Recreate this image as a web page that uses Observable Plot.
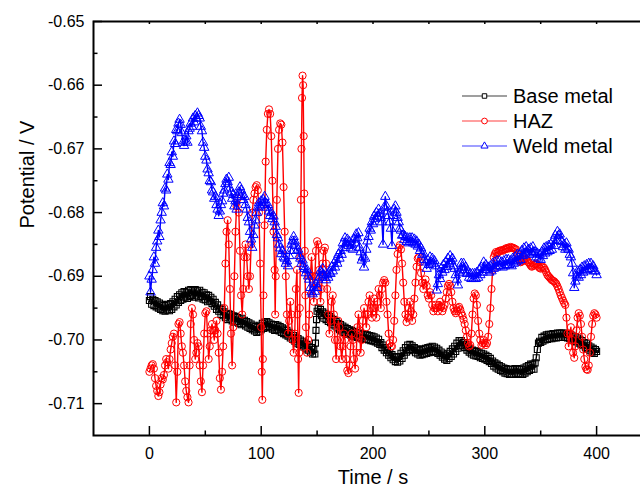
<!DOCTYPE html>
<html>
<head>
<meta charset="utf-8">
<script src="https://cdn.jsdelivr.net/npm/d3@7"></script>
<script src="https://cdn.jsdelivr.net/npm/@observablehq/plot@0.6"></script>
<style>
  html, body { margin: 0; padding: 0; background: #fff; overflow: hidden; }
  #wrap { position: relative; width: 652px; height: 488px; font-family: "Liberation Sans", Arial, sans-serif; }
  #legend { position: absolute; left: 0; top: 0; pointer-events: none; }
</style>
</head>
<body>
<div id="wrap"></div>
<script>
// ---- data (time s, potential V) ----
const seriesNames = ["Base metal", "HAZ", "Weld metal"];
const xMajor = [0, 100, 200, 300, 400];
const xMinor = [50, 150, 250, 350];
const yMajor = [-0.65, -0.66, -0.67, -0.68, -0.69, -0.70, -0.71];
const yMinor = [-0.655, -0.665, -0.675, -0.685, -0.695, -0.705];

const baseMetal = [
[0,-0.6938],[1,-0.6932],[2,-0.6944],[3,-0.6936],[4,-0.6946],[5,-0.6938],[6,-0.6948],[7,-0.6940],[8,-0.6950],[9,-0.6942],
[10,-0.6952],[11,-0.6944],[12,-0.6954],[13,-0.6946],[14,-0.6955],[15,-0.6945],[16,-0.6953],[17,-0.6944],[18,-0.6954],[19,-0.6943],
[20,-0.6952],[21,-0.6940],[22,-0.6948],[23,-0.6936],[24,-0.6945],[25,-0.6932],[26,-0.6941],[27,-0.6929],[28,-0.6938],[29,-0.6926],
[30,-0.6936],[31,-0.6924],[32,-0.6933],[33,-0.6925],[34,-0.6935],[35,-0.6922],[36,-0.6932],[37,-0.6921],[38,-0.6930],[39,-0.6922],
[40,-0.6933],[41,-0.6921],[42,-0.6931],[43,-0.6923],[44,-0.6934],[45,-0.6922],[46,-0.6932],[47,-0.6925],[48,-0.6936],[49,-0.6926],
[50,-0.6937],[51,-0.6929],[52,-0.6940],[53,-0.6930],[54,-0.6939],[55,-0.6933],[56,-0.6943],[57,-0.6936],[58,-0.6947],[59,-0.6941],
[60,-0.6952],[61,-0.6945],[62,-0.6955],[63,-0.6950],[64,-0.6960],[65,-0.6952],[66,-0.6962],[67,-0.6956],[68,-0.6965],[69,-0.6958],
[70,-0.6968],[71,-0.6959],[72,-0.6967],[73,-0.6960],[74,-0.6970],[75,-0.6962],[76,-0.6972],[77,-0.6963],[78,-0.6971],[79,-0.6965],
[80,-0.6974],[81,-0.6967],[82,-0.6976],[83,-0.6966],[84,-0.6975],[85,-0.6969],[86,-0.6978],[87,-0.6971],[88,-0.6980],[89,-0.6973],
[90,-0.6982],[91,-0.6975],[92,-0.6984],[93,-0.6977],[94,-0.6986],[95,-0.6979],[96,-0.6988],[97,-0.6980],[98,-0.6987],[99,-0.6977],
[100,-0.6984],[101,-0.6974],[102,-0.6982],[103,-0.6972],[104,-0.6980],[105,-0.6971],[106,-0.6979],[107,-0.6973],[108,-0.6981],[109,-0.6975],
[110,-0.6983],[111,-0.6976],[112,-0.6985],[113,-0.6976],[114,-0.6984],[115,-0.6977],[116,-0.6986],[117,-0.6979],[118,-0.6988],[119,-0.6981],
[120,-0.6990],[121,-0.6983],[122,-0.6992],[123,-0.6985],[124,-0.6994],[125,-0.6988],[126,-0.6997],[127,-0.6990],[128,-0.6999],[129,-0.6993],
[130,-0.7002],[131,-0.6996],[132,-0.7005],[133,-0.6998],[134,-0.7007],[135,-0.7000],[136,-0.7009],[137,-0.7002],[138,-0.7011],[139,-0.7005],
[140,-0.7014],[141,-0.7007],[142,-0.7016],[143,-0.7010],[144,-0.7019],[145,-0.7012],[146,-0.7022],[147,-0.7015],[148,-0.7022],[148.5,-0.7005],
[149,-0.6985],[149.5,-0.6968],[150,-0.6955],[151,-0.6950],[152,-0.6958],[153,-0.6952],[154,-0.6962],[155,-0.6956],[156,-0.6966],[157,-0.6958],
[158,-0.6968],[159,-0.6961],[160,-0.6971],[161,-0.6963],[162,-0.6973],[163,-0.6966],[164,-0.6976],[165,-0.6968],[166,-0.6978],[167,-0.6971],
[168,-0.6981],[169,-0.6974],[170,-0.6984],[171,-0.6976],[172,-0.6986],[173,-0.6978],[174,-0.6988],[175,-0.6980],[176,-0.6990],[177,-0.6982],
[178,-0.6991],[179,-0.6984],[180,-0.6992],[181,-0.6985],[182,-0.6994],[183,-0.6987],[184,-0.6995],[185,-0.6988],[186,-0.6996],[187,-0.6989],
[188,-0.6997],[189,-0.6990],[190,-0.6998],[191,-0.6991],[192,-0.6999],[193,-0.6991],[194,-0.6999],[195,-0.6992],[196,-0.7000],[197,-0.6993],
[198,-0.7001],[199,-0.6994],[200,-0.7002],[201,-0.6995],[202,-0.7003],[203,-0.6997],[204,-0.7005],[205,-0.6999],[206,-0.7007],[207,-0.7004],
[208,-0.7012],[209,-0.7008],[210,-0.7016],[211,-0.7012],[212,-0.7020],[213,-0.7016],[214,-0.7024],[215,-0.7020],[216,-0.7028],[217,-0.7023],
[218,-0.7031],[219,-0.7026],[220,-0.7034],[221,-0.7027],[222,-0.7035],[223,-0.7026],[224,-0.7033],[225,-0.7021],[226,-0.7029],[227,-0.7017],
[228,-0.7024],[229,-0.7012],[230,-0.7019],[231,-0.7008],[232,-0.7016],[233,-0.7007],[234,-0.7015],[235,-0.7009],[236,-0.7017],[237,-0.7012],
[238,-0.7020],[239,-0.7014],[240,-0.7022],[241,-0.7016],[242,-0.7024],[243,-0.7015],[244,-0.7023],[245,-0.7014],[246,-0.7022],[247,-0.7013],
[248,-0.7021],[249,-0.7012],[250,-0.7020],[251,-0.7011],[252,-0.7019],[253,-0.7010],[254,-0.7018],[255,-0.7011],[256,-0.7019],[257,-0.7013],
[258,-0.7021],[259,-0.7016],[260,-0.7024],[261,-0.7019],[262,-0.7027],[263,-0.7022],[264,-0.7030],[265,-0.7024],[266,-0.7032],[267,-0.7021],
[268,-0.7029],[269,-0.7018],[270,-0.7026],[271,-0.7014],[272,-0.7022],[273,-0.7010],[274,-0.7018],[275,-0.7005],[276,-0.7013],[277,-0.7001],
[278,-0.7009],[279,-0.7001],[280,-0.7009],[281,-0.7004],[282,-0.7012],[283,-0.7007],[284,-0.7016],[285,-0.7011],[286,-0.7019],[287,-0.7014],
[288,-0.7022],[289,-0.7016],[290,-0.7024],[291,-0.7017],[292,-0.7025],[293,-0.7018],[294,-0.7026],[295,-0.7020],[296,-0.7028],[297,-0.7021],
[298,-0.7029],[299,-0.7022],[300,-0.7030],[301,-0.7024],[302,-0.7032],[303,-0.7026],[304,-0.7034],[305,-0.7029],[306,-0.7037],[307,-0.7033],
[308,-0.7041],[309,-0.7036],[310,-0.7044],[311,-0.7038],[312,-0.7046],[313,-0.7040],[314,-0.7048],[315,-0.7042],[316,-0.7050],[317,-0.7044],
[318,-0.7052],[319,-0.7045],[320,-0.7053],[321,-0.7046],[322,-0.7054],[323,-0.7046],[324,-0.7054],[325,-0.7046],[326,-0.7054],[327,-0.7045],
[328,-0.7053],[329,-0.7045],[330,-0.7053],[331,-0.7046],[332,-0.7054],[333,-0.7046],[334,-0.7054],[335,-0.7044],[336,-0.7052],[337,-0.7042],
[338,-0.7050],[339,-0.7040],[340,-0.7048],[341,-0.7038],[342,-0.7046],[343,-0.7038],[344,-0.7046],[345,-0.7036],[346,-0.7028],[347,-0.7015],
[348,-0.7005],[349,-0.7002],[350,-0.7004],[351,-0.6996],[352,-0.7002],[353,-0.6994],[354,-0.7000],[355,-0.6992],[356,-0.6999],[357,-0.6991],
[358,-0.6998],[359,-0.6991],[360,-0.6998],[361,-0.6990],[362,-0.6997],[363,-0.6990],[364,-0.6997],[365,-0.6989],[366,-0.6996],[367,-0.6989],
[368,-0.6996],[369,-0.6989],[370,-0.6996],[371,-0.6989],[372,-0.6996],[373,-0.6990],[374,-0.6997],[375,-0.6991],[376,-0.6998],[377,-0.6992],
[378,-0.7000],[379,-0.6994],[380,-0.7002],[381,-0.6995],[382,-0.7003],[383,-0.6997],[384,-0.7005],[385,-0.6999],[386,-0.7007],[387,-0.7001],
[388,-0.7009],[389,-0.7004],[390,-0.7012],[391,-0.7006],[392,-0.7014],[393,-0.7009],[394,-0.7017],[395,-0.7011],[396,-0.7019],[397,-0.7013],
[398,-0.7021],[399,-0.7015],[400,-0.7018]
];

const haz = [
[0,-0.7050],[1,-0.7045],[2,-0.7040],[3,-0.7038],[4,-0.7045],[5,-0.7060],[6,-0.7072],[7,-0.7080],[8,-0.7088],[9,-0.7082],
[10,-0.7070],[11,-0.7060],[12,-0.7062],[13,-0.7055],[14,-0.7040],[15,-0.7030],[16,-0.7035],[17,-0.7045],[18,-0.7030],[19,-0.7015],
[20,-0.7005],[21,-0.6995],[22,-0.6990],[23,-0.7040],[24,-0.7098],[25,-0.7050],[26,-0.6975],[27,-0.6972],[28,-0.6990],[29,-0.7010],
[30,-0.7020],[31,-0.7040],[32,-0.7065],[33,-0.7080],[34,-0.7090],[35,-0.7098],[36,-0.7040],[37,-0.6975],[38,-0.6950],[39,-0.6960],
[40,-0.7000],[41,-0.7030],[42,-0.7020],[43,-0.7005],[44,-0.7010],[45,-0.7040],[46,-0.7065],[47,-0.7082],[48,-0.7040],[49,-0.6990],
[50,-0.6958],[51,-0.6955],[52,-0.6990],[53,-0.7030],[54,-0.7010],[55,-0.6985],[56,-0.6975],[57,-0.6985],[58,-0.7000],[59,-0.6985],
[60,-0.6970],[61,-0.6990],[62,-0.7020],[63,-0.7060],[64,-0.7078],[65,-0.7050],[66,-0.7010],[67,-0.6950],[68,-0.6880],[69,-0.6830],
[70,-0.6812],[71,-0.6850],[72,-0.6920],[73,-0.6990],[74,-0.7040],[75,-0.6980],[76,-0.6900],[77,-0.6830],[78,-0.6790],[79,-0.6778],
[80,-0.6800],[81,-0.6860],[82,-0.6930],[83,-0.6960],[84,-0.6920],[85,-0.6870],[86,-0.6850],[87,-0.6870],[88,-0.6900],[89,-0.6920],
[90,-0.6900],[91,-0.6850],[92,-0.6800],[93,-0.6780],[94,-0.6770],[95,-0.6760],[96,-0.6757],[97,-0.6765],[98,-0.6800],[99,-0.6880],
[100,-0.6980],[100.5,-0.7050],[101,-0.7094],[101.5,-0.7030],[102,-0.6930],[103,-0.6820],[104,-0.6720],[105,-0.6670],[106,-0.6645],[107,-0.6638],
[108,-0.6645],[109,-0.6680],[110,-0.6750],[111,-0.6830],[112,-0.6890],[112.5,-0.6960],[113,-0.6900],[114,-0.6780],[115,-0.6700],[116,-0.6670],
[117,-0.6660],[118,-0.6662],[119,-0.6690],[120,-0.6760],[121,-0.6830],[122,-0.6900],[123,-0.6960],[124,-0.6990],[125,-0.6970],[126,-0.6940],
[127,-0.6960],[128,-0.7000],[129,-0.7020],[130,-0.6990],[131,-0.6920],[132,-0.6890],[132.5,-0.6960],[133,-0.7030],[133.5,-0.7083],[134,-0.7020],
[134.5,-0.6950],[135,-0.6870],[135.5,-0.6780],[136,-0.6700],[136.5,-0.6620],[137,-0.6585],[137.5,-0.6600],[138,-0.6680],[138.5,-0.6770],[139,-0.6860],
[139.5,-0.6930],[140,-0.6980],[141,-0.7020],[142,-0.7000],[143,-0.6960],[144,-0.6900],[145,-0.6870],[146,-0.6900],[147,-0.6940],[148,-0.6900],
[149,-0.6860],[150,-0.6845],[151,-0.6850],[152,-0.6890],[153,-0.6940],[154,-0.6920],[155,-0.6880],[156,-0.6860],[157,-0.6855],[158,-0.6880],
[159,-0.6920],[160,-0.6960],[161,-0.6990],[162,-0.6970],[163,-0.6940],[164,-0.6930],[165,-0.6960],[166,-0.7000],[167,-0.7030],[168,-0.7000],
[169,-0.6970],[170,-0.6980],[171,-0.7010],[172,-0.7030],[173,-0.7010],[174,-0.6990],[175,-0.7000],[176,-0.7030],[177,-0.7048],[178,-0.7052],
[179,-0.7040],[180,-0.7010],[181,-0.6990],[182,-0.7000],[183,-0.7030],[184,-0.7045],[185,-0.7020],[186,-0.6980],[187,-0.6960],[188,-0.6985],
[189,-0.7020],[190,-0.7000],[191,-0.6970],[192,-0.6950],[193,-0.6960],[194,-0.6980],[195,-0.6960],[196,-0.6940],[197,-0.6930],[198,-0.6950],
[199,-0.6965],[200,-0.6950],[201,-0.6935],[202,-0.6950],[203,-0.6965],[204,-0.6940],[205,-0.6920],[206,-0.6930],[207,-0.6950],[208,-0.6920],
[209,-0.6910],[210,-0.6906],[211,-0.6910],[212,-0.6940],[213,-0.6960],[214,-0.6990],[215,-0.7005],[216,-0.7010],[217,-0.7010],[218,-0.7000],
[219,-0.6970],[220,-0.6930],[221,-0.6890],[222,-0.6865],[223,-0.6855],[224,-0.6851],[225,-0.6858],[226,-0.6880],[227,-0.6910],[228,-0.6940],
[229,-0.6960],[230,-0.6972],[231,-0.6965],[232,-0.6950],[233,-0.6940],[234,-0.6955],[235,-0.6970],[236,-0.6960],[237,-0.6935],[238,-0.6910],
[239,-0.6885],[240,-0.6872],[241,-0.6870],[242,-0.6878],[243,-0.6895],[244,-0.6910],[245,-0.6920],[246,-0.6912],[247,-0.6905],[248,-0.6915],
[249,-0.6930],[250,-0.6935],[251,-0.6925],[252,-0.6930],[253,-0.6945],[254,-0.6955],[255,-0.6950],[256,-0.6945],[257,-0.6950],[258,-0.6955],
[259,-0.6945],[260,-0.6940],[261,-0.6948],[262,-0.6955],[263,-0.6950],[264,-0.6945],[265,-0.6935],[266,-0.6925],[267,-0.6915],[268,-0.6912],
[269,-0.6915],[270,-0.6925],[271,-0.6940],[272,-0.6950],[273,-0.6955],[274,-0.6958],[275,-0.6955],[276,-0.6950],[277,-0.6948],[278,-0.6952],
[279,-0.6958],[280,-0.6962],[281,-0.6968],[282,-0.6975],[283,-0.6985],[284,-0.6995],[285,-0.7005],[286,-0.7010],[287,-0.7008],[288,-0.6990],
[289,-0.6960],[290,-0.6935],[291,-0.6927],[292,-0.6930],[293,-0.6945],[294,-0.6970],[295,-0.6990],[296,-0.7000],[297,-0.7008],[298,-0.7005],
[299,-0.7000],[300,-0.7005],[301,-0.7008],[302,-0.7005],[303,-0.6995],[304,-0.6975],[305,-0.6950],[306,-0.6920],[307,-0.6890],[308,-0.6870],
[309,-0.6865],[310,-0.6862],[311,-0.6864],[312,-0.6862],[313,-0.6860],[314,-0.6860],[315,-0.6859],[316,-0.6860],[317,-0.6858],[318,-0.6858],
[319,-0.6856],[320,-0.6857],[321,-0.6855],[322,-0.6856],[323,-0.6854],[324,-0.6855],[325,-0.6855],[326,-0.6856],[327,-0.6857],[328,-0.6858],
[329,-0.6864],[330,-0.6870],[331,-0.6875],[332,-0.6878],[333,-0.6877],[334,-0.6876],[335,-0.6874],[336,-0.6872],[337,-0.6873],[338,-0.6875],
[339,-0.6878],[340,-0.6880],[341,-0.6883],[342,-0.6885],[343,-0.6884],[344,-0.6882],[345,-0.6881],[346,-0.6880],[347,-0.6882],[348,-0.6885],
[349,-0.6887],[350,-0.6888],[351,-0.6886],[352,-0.6885],[353,-0.6887],[354,-0.6890],[355,-0.6894],[356,-0.6898],[357,-0.6900],[358,-0.6902],
[359,-0.6904],[360,-0.6906],[361,-0.6907],[362,-0.6908],[363,-0.6910],[364,-0.6912],[365,-0.6916],[366,-0.6920],[367,-0.6925],[368,-0.6930],
[369,-0.6934],[370,-0.6938],[371,-0.6942],[372,-0.6945],[373,-0.6965],[374,-0.6990],[375,-0.7010],[376,-0.6990],[377,-0.6980],[378,-0.7000],
[379,-0.7020],[380,-0.7028],[381,-0.7010],[382,-0.6985],[383,-0.6965],[384,-0.6958],[385,-0.6962],[386,-0.6975],[387,-0.6995],[388,-0.7015],
[389,-0.7030],[390,-0.7042],[391,-0.7046],[392,-0.7047],[393,-0.7040],[394,-0.7020],[395,-0.6995],[396,-0.6975],[397,-0.6962],[398,-0.6958],
[399,-0.6960],[400,-0.6965]
];

const weldMetal = [
[0,-0.6900],[1,-0.6925],[2,-0.6905],[3,-0.6890],[4,-0.6870],[5,-0.6880],[6,-0.6855],[7,-0.6845],[8,-0.6828],[9,-0.6838],
[10,-0.6812],[11,-0.6800],[12,-0.6785],[13,-0.6790],[14,-0.6762],[15,-0.6765],[16,-0.6740],[17,-0.6748],[18,-0.6722],[19,-0.6725],
[20,-0.6705],[21,-0.6712],[22,-0.6688],[23,-0.6692],[24,-0.6670],[25,-0.6672],[26,-0.6660],[27,-0.6654],[28,-0.6662],[29,-0.6675],
[30,-0.6690],[31,-0.6695],[32,-0.6688],[33,-0.6680],[34,-0.6690],[35,-0.6672],[36,-0.6668],[37,-0.6660],[38,-0.6665],[39,-0.6652],
[40,-0.6658],[41,-0.6648],[42,-0.6652],[43,-0.6644],[44,-0.6648],[45,-0.6652],[46,-0.6665],[47,-0.6672],[48,-0.6690],[49,-0.6698],
[50,-0.6712],[51,-0.6718],[52,-0.6732],[53,-0.6738],[54,-0.6750],[55,-0.6752],[56,-0.6765],[57,-0.6768],[58,-0.6778],[59,-0.6775],
[60,-0.6788],[61,-0.6795],[62,-0.6805],[63,-0.6798],[64,-0.6788],[65,-0.6782],[66,-0.6770],[67,-0.6765],[68,-0.6755],[69,-0.6748],
[70,-0.6752],[71,-0.6745],[72,-0.6762],[73,-0.6768],[74,-0.6778],[75,-0.6772],[76,-0.6790],[77,-0.6782],[78,-0.6795],[79,-0.6775],
[80,-0.6768],[81,-0.6760],[82,-0.6765],[83,-0.6772],[84,-0.6780],[85,-0.6775],[86,-0.6788],[87,-0.6795],[88,-0.6808],[89,-0.6815],
[90,-0.6830],[91,-0.6842],[92,-0.6855],[93,-0.6835],[94,-0.6820],[95,-0.6812],[96,-0.6800],[97,-0.6792],[98,-0.6785],[99,-0.6790],
[100,-0.6782],[101,-0.6788],[102,-0.6780],[103,-0.6775],[104,-0.6785],[105,-0.6792],[106,-0.6788],[107,-0.6798],[108,-0.6805],[109,-0.6800],
[110,-0.6810],[111,-0.6806],[112,-0.6815],[113,-0.6822],[114,-0.6835],[115,-0.6840],[116,-0.6850],[117,-0.6856],[118,-0.6865],[119,-0.6860],
[120,-0.6870],[121,-0.6872],[122,-0.6880],[123,-0.6876],[124,-0.6884],[125,-0.6868],[126,-0.6860],[127,-0.6850],[128,-0.6845],[129,-0.6838],
[130,-0.6845],[131,-0.6852],[132,-0.6860],[133,-0.6858],[134,-0.6868],[135,-0.6872],[136,-0.6880],[137,-0.6875],[138,-0.6885],[139,-0.6888],
[140,-0.6895],[141,-0.6890],[142,-0.6900],[143,-0.6905],[144,-0.6918],[145,-0.6925],[146,-0.6928],[147,-0.6918],[148,-0.6924],[149,-0.6912],
[150,-0.6918],[151,-0.6905],[152,-0.6902],[153,-0.6892],[154,-0.6895],[155,-0.6888],[156,-0.6898],[157,-0.6902],[158,-0.6906],[159,-0.6898],
[160,-0.6902],[161,-0.6894],[162,-0.6896],[163,-0.6886],[164,-0.6892],[165,-0.6880],[166,-0.6886],[167,-0.6874],[168,-0.6880],[169,-0.6866],
[170,-0.6872],[171,-0.6860],[172,-0.6866],[173,-0.6848],[174,-0.6855],[175,-0.6840],[176,-0.6848],[177,-0.6842],[178,-0.6852],[179,-0.6846],
[180,-0.6856],[181,-0.6850],[182,-0.6858],[183,-0.6842],[184,-0.6848],[185,-0.6834],[186,-0.6840],[187,-0.6832],[188,-0.6855],[189,-0.6862],
[190,-0.6875],[191,-0.6870],[192,-0.6886],[193,-0.6872],[194,-0.6858],[195,-0.6845],[196,-0.6838],[197,-0.6825],[198,-0.6828],[199,-0.6815],
[200,-0.6818],[201,-0.6806],[202,-0.6810],[203,-0.6800],[204,-0.6806],[205,-0.6795],[206,-0.6802],[207,-0.6808],[208,-0.6815],[209,-0.6850],
[210,-0.6792],[211,-0.6775],[212,-0.6790],[213,-0.6798],[214,-0.6805],[215,-0.6815],[216,-0.6825],[217,-0.6852],[218,-0.6805],[219,-0.6795],
[220,-0.6790],[221,-0.6800],[222,-0.6808],[223,-0.6815],[224,-0.6825],[225,-0.6828],[226,-0.6836],[227,-0.6835],[228,-0.6843],[229,-0.6838],
[230,-0.6846],[231,-0.6840],[232,-0.6848],[233,-0.6840],[234,-0.6846],[235,-0.6840],[236,-0.6848],[237,-0.6842],[238,-0.6850],[239,-0.6845],
[240,-0.6853],[241,-0.6850],[242,-0.6860],[243,-0.6856],[244,-0.6866],[245,-0.6864],[246,-0.6874],[247,-0.6878],[248,-0.6888],[249,-0.6875],
[250,-0.6882],[251,-0.6870],[252,-0.6878],[253,-0.6872],[254,-0.6880],[255,-0.6876],[256,-0.6884],[257,-0.6922],[258,-0.6912],[259,-0.6898],
[260,-0.6904],[261,-0.6888],[262,-0.6894],[263,-0.6882],[264,-0.6890],[265,-0.6878],[266,-0.6885],[267,-0.6872],[268,-0.6880],[269,-0.6868],
[270,-0.6876],[271,-0.6872],[272,-0.6884],[273,-0.6888],[274,-0.6898],[275,-0.6905],[276,-0.6914],[277,-0.6895],[278,-0.6892],[279,-0.6880],
[280,-0.6886],[281,-0.6880],[282,-0.6890],[283,-0.6886],[284,-0.6896],[285,-0.6894],[286,-0.6902],[287,-0.6896],[288,-0.6904],[289,-0.6896],
[290,-0.6904],[291,-0.6896],[292,-0.6904],[293,-0.6894],[294,-0.6902],[295,-0.6890],[296,-0.6898],[297,-0.6886],[298,-0.6894],[299,-0.6878],
[300,-0.6886],[301,-0.6882],[302,-0.6890],[303,-0.6886],[304,-0.6894],[305,-0.6884],[306,-0.6892],[307,-0.6880],[308,-0.6888],[309,-0.6878],
[310,-0.6886],[311,-0.6876],[312,-0.6884],[313,-0.6876],[314,-0.6884],[315,-0.6878],[316,-0.6886],[317,-0.6876],[318,-0.6884],[319,-0.6874],
[320,-0.6882],[321,-0.6874],[322,-0.6882],[323,-0.6876],[324,-0.6884],[325,-0.6872],[326,-0.6880],[327,-0.6870],[328,-0.6878],[329,-0.6866],
[330,-0.6876],[331,-0.6866],[332,-0.6874],[333,-0.6860],[334,-0.6868],[335,-0.6856],[336,-0.6864],[337,-0.6854],[338,-0.6862],[339,-0.6858],
[340,-0.6866],[341,-0.6856],[342,-0.6864],[343,-0.6854],[344,-0.6862],[345,-0.6862],[346,-0.6870],[347,-0.6864],[348,-0.6872],[349,-0.6866],
[350,-0.6874],[351,-0.6862],[352,-0.6868],[353,-0.6856],[354,-0.6864],[355,-0.6854],[356,-0.6862],[357,-0.6852],[358,-0.6860],[359,-0.6850],
[360,-0.6858],[361,-0.6844],[362,-0.6852],[363,-0.6836],[364,-0.6844],[365,-0.6830],[366,-0.6836],[367,-0.6834],[368,-0.6844],[369,-0.6846],
[370,-0.6854],[371,-0.6850],[372,-0.6858],[373,-0.6848],[374,-0.6856],[375,-0.6858],[376,-0.6866],[377,-0.6870],[378,-0.6880],[379,-0.6895],
[380,-0.6918],[381,-0.6908],[382,-0.6900],[383,-0.6892],[384,-0.6902],[385,-0.6890],[386,-0.6898],[387,-0.6886],[388,-0.6894],[389,-0.6884],
[390,-0.6892],[391,-0.6882],[392,-0.6890],[393,-0.6880],[394,-0.6888],[395,-0.6880],[396,-0.6888],[397,-0.6884],[398,-0.6892],[399,-0.6892],
[400,-0.6898]
];

// ---- layout ----
const W = 652, H = 488;
const mL = 93, mR = 0, mT = 21, mB = 53;
const plotW = W - mL - mR, plotH = H - mT - mB;
const font = "Liberation Sans, Arial, sans-serif";

const series = [
  {name: seriesNames[0], data: baseMetal, color: "#000000", symbol: "square", r: 3.4, fill: "none", sw: 1.1},
  {name: seriesNames[1], data: haz, color: "#ff0000", symbol: "circle", r: 3.6, fill: "none", sw: 1},
  {name: seriesNames[2], data: weldMetal, color: "#0000ff", symbol: "triangle", r: 3.5, fill: "none", sw: 1}
];

const marks = [];
for (const s of series) {
  marks.push(Plot.line(s.data, {x: d => d[0], y: d => d[1], stroke: s.color, strokeWidth: 1.4}));
  marks.push(Plot.dot(s.data, {x: d => d[0], y: d => d[1], symbol: s.symbol, r: s.r, stroke: s.color, fill: s.fill, strokeWidth: s.sw}));
}

const chart = Plot.plot({
  width: W, height: H,
  marginLeft: mL, marginRight: mR, marginTop: mT, marginBottom: mB,
  style: {fontFamily: font, fontSize: "16px", color: "black", background: "white", overflow: "visible"},
  x: {domain: [-50, 450]},
  y: {domain: [-0.715, -0.65]},
  marks: [
    ...marks,
    // inward ticks
    Plot.tickX(xMajor, {x: d => d, insetTop: plotH - 9, stroke: "black", strokeWidth: 1.5}),
    Plot.tickX(xMinor, {x: d => d, insetTop: plotH - 4.5, stroke: "black", strokeWidth: 1.5}),
    Plot.tickX(xMajor.concat(xMinor), {x: d => d, insetBottom: plotH - 3, stroke: "black", strokeWidth: 1.5}),
    Plot.tickY(yMajor, {y: d => d, insetRight: plotW - 9, stroke: "black", strokeWidth: 1.5}),
    Plot.tickY(yMinor, {y: d => d, insetRight: plotW - 4.5, stroke: "black", strokeWidth: 1.5}),
    Plot.axisX({ticks: xMajor, tickSize: 0, tickPadding: 12, tickFormat: d => String(d), label: null, fontSize: 16}),
    Plot.axisY({ticks: yMajor, tickSize: 0, tickPadding: 9, tickFormat: d => d.toFixed(2), label: null, fontSize: 16}),
    Plot.frame({stroke: "black", strokeWidth: 2}),
    Plot.text(["Time / s"], {frameAnchor: "bottom", dy: 42, fontSize: 20, lineAnchor: "middle", fill: "black"}),
    Plot.text(["Potential / V"], {frameAnchor: "left", dx: -66, rotate: -90, fontSize: 20, lineAnchor: "middle", fill: "black"})
  ]
});

const wrap = document.getElementById("wrap");
wrap.appendChild(chart);

// ---- legend ----
const leg = d3.select(wrap).append("svg").attr("id", "legend").attr("width", W).attr("height", H);
const legX0 = 462, legX1 = 507, legTextX = 513, legY0 = 96, legDy = 25;
series.forEach((s, i) => {
  const y = legY0 + i * legDy;
  const g = leg.append("g");
  g.append("line").attr("x1", legX0).attr("x2", legX1).attr("y1", y).attr("y2", y)
    .attr("stroke", s.color).attr("stroke-width", 1).attr("opacity", 0.75);
  const sym = s.symbol === "square" ? d3.symbolSquare : s.symbol === "circle" ? d3.symbolCircle : d3.symbolTriangle;
  g.append("path").attr("d", d3.symbol(sym, s.symbol === "square" ? 20 : s.symbol === "circle" ? 26 : 22)())
    .attr("transform", `translate(${(legX0 + legX1) / 2},${y})`)
    .attr("fill", "white").attr("stroke", s.color).attr("stroke-width", 1);
  g.append("text").attr("x", legTextX).attr("y", y).attr("dy", "0.35em")
    .attr("font-family", font).attr("font-size", 20).attr("fill", "black").text(s.name);
});
</script>
</body>
</html>
